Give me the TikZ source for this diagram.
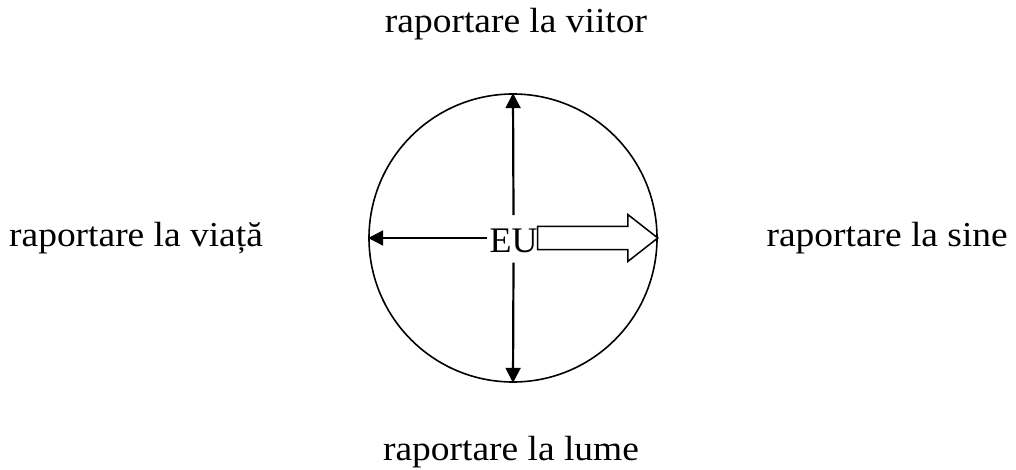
\documentclass[tikz,border=0pt]{standalone}
\usepackage{fontspec}
\setmainfont{Liberation Serif}
\newfontfamily\lblfont{Liberation Serif}[FakeStretch=1.07]
\usetikzlibrary{arrows.meta,positioning}

\begin{document}
\begin{tikzpicture}[
    x=1pt, y=-1pt,
    lbl/.style={
        inner sep=0pt,
        font=\lblfont\fontsize{35}{40}\selectfont
    },
    ring/.style={
        draw,
        circle,
        line width=1.6pt,
        minimum size=288pt,
        inner sep=0pt
    },
    core/.style={
        inner sep=0pt,
        font=\fontsize{36}{40}\selectfont
    },
    arr/.style={-{Triangle[length=15pt,width=15pt]}, line width=2.2pt},
    fat/.style={draw, fill=white, line width=1.5pt, line join=miter}
]
    \useasboundingbox (0,0) rectangle (1016,470);
    %% Cercul
    \node[ring] (circ) at (513,238) {};
    \node[core, anchor=base] (eu) at (513.5,252) {EU};
    %% Etichete
    \node[lbl, anchor=base] (viitor) at (516,33) {raportare la viitor};
    \node[lbl, anchor=base] (lume) at (511,460) {raportare la lume};
    \node[lbl, anchor=base west] (viata) at (9,247) {raportare la viață};
    \node[lbl, anchor=base east] (sine) at (1008,247) {raportare la sine};

    %% Sageti
    \coordinate (west0) at ([xshift=-2pt]eu.west |- circ.west);
    \coordinate (shaft) at (eu.east |- circ.east);
    \draw[arr] ([yshift=13pt]eu.north) -- (circ.north);
    \draw[arr] ([yshift=-10pt]eu.south) -- (circ.south);
    \draw[arr] (west0) -- (circ.west);
    \draw[fat] ([yshift=11.5pt]shaft) -- ([xshift=-30pt,yshift=11.5pt]circ.east)
        -- ([xshift=-30pt,yshift=23.5pt]circ.east) -- (circ.east)
        -- ([xshift=-30pt,yshift=-23.5pt]circ.east) -- ([xshift=-30pt,yshift=-11.5pt]circ.east)
        -- ([yshift=-11.5pt]shaft) -- cycle;
\end{tikzpicture}
\end{document}
